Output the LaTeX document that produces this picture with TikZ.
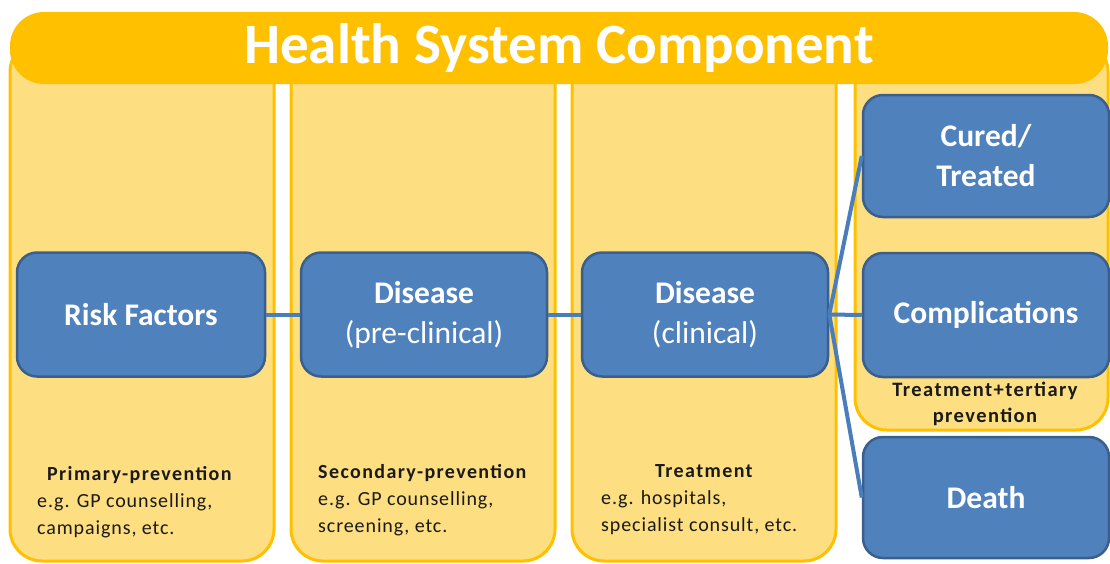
\documentclass[tikz,border=0pt]{standalone}
\usepackage{fontspec}
\setmainfont{Carlito}
\newfontfamily\notefont[LetterSpace=4.5]{Carlito}
\newfontfamily\noteheadfont[LetterSpace=7]{Carlito}

\definecolor{gold}{HTML}{FFC000}
\definecolor{paleyellow}{HTML}{FDDE80}
\definecolor{bluefill}{HTML}{4F81BD}
\definecolor{blueedge}{HTML}{3A5F8C}
\definecolor{linkblue}{HTML}{4A7EBB}
\definecolor{notetext}{HTML}{1A1A1A}

\begin{document}
\begin{tikzpicture}[x=1pt,y=-1pt,
  column/.style={draw=gold, line width=3pt, fill=paleyellow, rounded corners=32pt},
  titlebar/.style={fill=gold, rounded corners=34pt, minimum width=1098pt, minimum height=72pt,
    inner sep=0pt, text=white, font=\bfseries\fontsize{57}{60}\selectfont},
  stage/.style={draw=blueedge, fill=bluefill, line width=2.5pt, rounded corners=20pt,
    minimum width=246pt, minimum height=124pt, inner sep=0pt, text=white, align=center,
    font=\fontsize{31.5}{40}\selectfont},
  link/.style={draw=linkblue, line width=4pt},
  note/.style={inner sep=0pt, align=left, text=notetext, font=\notefont\fontsize{20}{27}\selectfont}
]
\useasboundingbox (0,0) rectangle (1110,563);

% the four phase columns
\draw[column] (10,40) rectangle (274,561);
\draw[column] (291,40) rectangle (555,561);
\draw[column] (572,40) rectangle (836,561);
\draw[column] (855,40) rectangle (1108,430);

% heading bar
\node[titlebar] (title) at (559,48) {Health System Component};

% stages
\node[stage, minimum width=248pt] (risk) at (141,314.5) {\bfseries Risk Factors};
\node[stage] (pre) at (424,314.5) {{\bfseries Disease}\\(pre-clinical)};
\node[stage] (clin) at (705,314.5) {{\bfseries Disease}\\(clinical)};
\node[stage, minimum height=122pt] (cured) at (986,156) {\bfseries Cured/\\\bfseries Treated};
\node[stage] (compl) at (986,315) {\bfseries Complications};
\node[stage, minimum height=121pt] (death) at (986,497.5) {\bfseries Death};

% connectors
\draw[link] (risk.east) -- (pre.west);
\draw[link] (pre.east) -- (clin.west);
\draw[link] (clin.east) -- (compl.west);
\draw[link] (clin.east) -- (cured.west);
\draw[link] (clin.east) -- (death.west);

% notes under each phase
\node[note, anchor=north west] (n1) at (37,466)
  {\hspace*{10pt}{\noteheadfont\bfseries Primary-prevention}\\e.g. GP counselling,\\campaigns, etc.};
\node[note, anchor=north west] (n2) at (318,464)
  {{\noteheadfont\bfseries Secondary-prevention}\\e.g. GP counselling,\\screening, etc.};
\node[note, anchor=north west] (n3) at (601,464)
  {\hspace*{54pt}{\noteheadfont\bfseries Treatment}\\e.g. hospitals,\\specialist consult, etc.};
\node[note, anchor=north, align=center, font=\noteheadfont\bfseries\fontsize{20.5}{26}\selectfont] (n4) at (985,382)
  {Treatment+tertiary\\prevention};
\end{tikzpicture}
\end{document}
